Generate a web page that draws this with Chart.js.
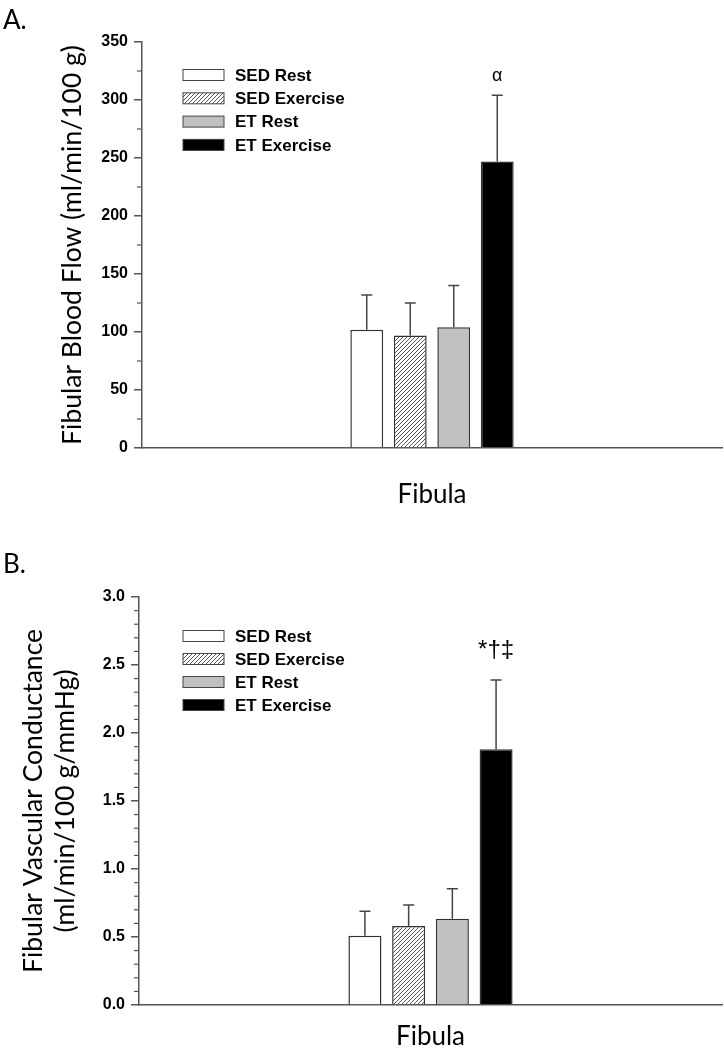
<!DOCTYPE html>
<html>
<head>
<meta charset="utf-8">
<script src="https://cdn.jsdelivr.net/npm/chart.js@4.4.1/dist/chart.umd.min.js"></script>
<style>
  body { margin: 0; background: #fff; width: 724px; height: 1050px; position: relative; overflow: hidden; }
  .panel { position: absolute; left: 0; width: 724px; }
  .tag { position: absolute; left: 3px; font-family: Lato, sans-serif; font-size: 26px; color: #000; }
</style>
</head>
<body>
<div class="panel" style="top:0;height:510px"><canvas id="flow-chart"></canvas></div>
<div class="panel" style="top:510px;height:540px"><canvas id="cond-chart"></canvas></div>
<div class="tag" style="top:3px">A.</div>
<div class="tag" style="top:547px">B.</div>
<script>
const groups = ['SED Rest', 'SED Exercise', 'ET Rest', 'ET Exercise'];
const categories = ['Fibula'];

// panel A: blood flow (ml/min/100 g)
const flowMeans = [102, 97, 104, 247];
const flowErrors = [30, 28, 36, 57];
const flowMarks = ['', '', '', 'α'];

// panel B: vascular conductance (ml/min/100 g/mmHg)
const condMeans = [0.51, 0.58, 0.635, 1.88];
const condErrors = [0.18, 0.155, 0.22, 0.51];
const condMarks = ['', '', '', '*†‡'];

function hatchPattern() {
    const c = document.createElement('canvas');
    c.width = 4; c.height = 4;
    const g = c.getContext('2d');
    g.fillStyle = '#fff';
    g.fillRect(0, 0, 4, 4);
    g.strokeStyle = '#555';
    g.lineWidth = 1;
    g.beginPath();
    g.moveTo(0, 4); g.lineTo(4, 0);
    g.moveTo(-2, 2); g.lineTo(2, -2);
    g.moveTo(2, 6); g.lineTo(6, 2);
    g.stroke();
    return g.createPattern(c, 'repeat');
}

const fills = ['#ffffff', hatchPattern(), '#c0c0c0', '#000000'];

const errorBars = {
    id: 'errorBars',
    afterDatasetsDraw(chart, args, opts) {
        const ctx = chart.ctx;
        const y = chart.scales.y;
        ctx.save();
        ctx.strokeStyle = '#444';
        ctx.lineWidth = 1.5;
        chart.data.datasets.forEach((ds, i) => {
            const bar = chart.getDatasetMeta(i).data[0];
            const top = y.getPixelForValue(ds.data[0] + ds.errors[0]);
            ctx.beginPath();
            ctx.moveTo(bar.x, bar.y);
            ctx.lineTo(bar.x, top);
            ctx.moveTo(bar.x - 5.5, top);
            ctx.lineTo(bar.x + 5.5, top);
            ctx.stroke();
            if (ds.mark) {
                ctx.fillStyle = '#000';
                ctx.font = opts.font;
                ctx.textAlign = 'center';
                ctx.textBaseline = 'middle';
                ctx.fillText(ds.mark, bar.x, top - opts.offset);
            }
        });
        ctx.restore();
    }
};

const minorTicks = {
    id: 'minorTicks',
    afterDraw(chart, args, opts) {
        const ctx = chart.ctx;
        const y = chart.scales.y;
        const left = chart.chartArea.left;
        ctx.save();
        ctx.strokeStyle = '#555';
        ctx.lineWidth = 1.2;
        const n = Math.round((y.max - y.min) / opts.step);
        for (let k = 0; k <= n; k++) {
            if (k % opts.every === 0) continue;
            const py = y.getPixelForValue(y.min + k * opts.step);
            ctx.beginPath();
            ctx.moveTo(left - 5, py);
            ctx.lineTo(left, py);
            ctx.stroke();
        }
        ctx.restore();
    }
};

const boxLegend = {
    id: 'boxLegend',
    afterDraw(chart, args, opts) {
        const ctx = chart.ctx;
        const area = chart.chartArea;
        ctx.save();
        ctx.font = 'bold 17px "Liberation Sans"';
        ctx.textBaseline = 'middle';
        ctx.textAlign = 'left';
        chart.data.datasets.forEach((ds, i) => {
            const bx = area.left + opts.x;
            const cy = area.top + opts.y + i * opts.gap;
            ctx.fillStyle = ds.backgroundColor;
            ctx.fillRect(bx, cy - 5.5, 41, 11);
            ctx.strokeStyle = '#444';
            ctx.lineWidth = 1;
            ctx.strokeRect(bx, cy - 5.5, 41, 11);
            ctx.fillStyle = '#000';
            ctx.fillText(ds.label, bx + 52, cy + 1);
        });
        ctx.restore();
    }
};

function makeChart(id, means, errors, marks, cfg) {
    const ctx = document.getElementById(id).getContext('2d');
    return new Chart(ctx, {
        type: 'bar',
        data: {
            labels: categories,
            datasets: groups.map((g, i) => ({
                label: g,
                data: [means[i]],
                errors: [errors[i]],
                mark: marks[i],
                backgroundColor: fills[i],
                borderColor: '#333',
                borderWidth: 1.5,
                categoryPercentage: 0.30,
                barPercentage: 0.755
            }))
        },
        options: {
            responsive: true,
            maintainAspectRatio: false,
            animation: false,
            layout: { padding: { top: cfg.top, right: 2, left: 0, bottom: 0 } },
            plugins: {
                legend: { display: false },
                tooltip: { enabled: false },
                errorBars: { font: cfg.markFont, offset: cfg.markOffset },
                minorTicks: { step: cfg.minor, every: cfg.every },
                boxLegend: { x: cfg.legendX, y: cfg.legendY, gap: cfg.legendGap }
            },
            scales: {
                x: {
                    grid: { display: false, drawTicks: false },
                    border: { color: '#555', width: 1.5 },
                    ticks: {
                        color: '#000',
                        padding: cfg.catPad,
                        font: { family: 'Lato', size: 26 }
                    },
                    afterFit: function(scale) { scale.height = cfg.xHeight; }
                },
                y: {
                    min: 0,
                    max: cfg.max,
                    border: { color: '#555', width: 1.5 },
                    grid: { drawOnChartArea: false, drawTicks: true, tickLength: 8, color: '#555', lineWidth: 1.5 },
                    ticks: {
                        stepSize: cfg.step,
                        color: '#000',
                        padding: 6,
                        font: { family: 'Liberation Sans', size: 16, weight: 'bold' },
                        callback: function(value) {
                            return value.toFixed(cfg.decimals);
                        }
                    },
                    title: {
                        display: true,
                        text: cfg.title,
                        color: '#000',
                        padding: { top: cfg.titlePad, bottom: 0 },
                        font: { family: 'Lato', size: 26.5, lineHeight: 1.22 }
                    },
                    afterFit: function(scale) { scale.width = cfg.yWidth; }
                }
            }
        },
        plugins: [errorBars, minorTicks, boxLegend]
    });
}

makeChart('flow-chart', flowMeans, flowErrors, flowMarks, {
    top: 42, max: 350, step: 50, minor: 25, every: 2, decimals: 0,
    title: 'Fibular Blood Flow (ml/min/100 g)', titlePad: 56,
    yWidth: 142, xHeight: 62, catPad: 31,
    legendX: 41, legendY: 33, legendGap: 23.3,
    markFont: '18px "Liberation Sans"', markOffset: 19
});

makeChart('cond-chart', condMeans, condErrors, condMarks, {
    top: 87, max: 3.0, step: 0.5, minor: 0.1, every: 5, decimals: 1,
    title: ['Fibular Vascular Conductance', '(ml/min/100 g/mmHg)'], titlePad: 17,
    yWidth: 139, xHeight: 45, catPad: 16,
    legendX: 44, legendY: 39, legendGap: 23,
    markFont: '24px "Liberation Sans"', markOffset: 30
});
</script>
</body>
</html>
